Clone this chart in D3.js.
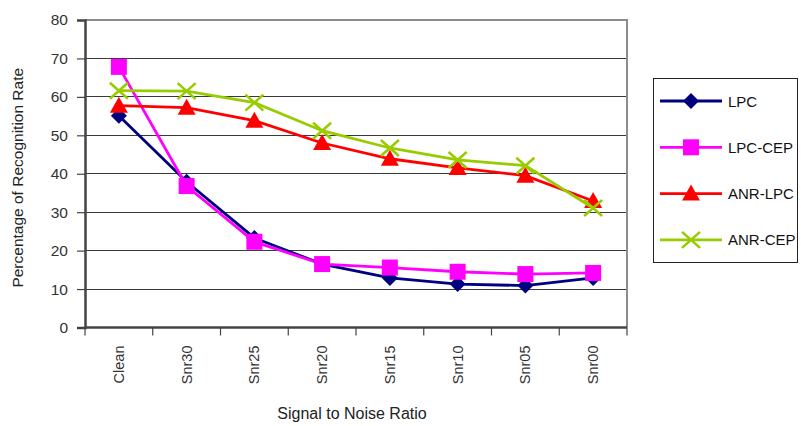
<!DOCTYPE html>
<html>
<head>
<meta charset="utf-8">
<script src="https://cdn.jsdelivr.net/npm/d3@7"></script>
<style>
  html, body { margin: 0; padding: 0; background: #fff; }
  svg { display: block; font-family: "Liberation Sans", Arial, sans-serif; }
</style>
</head>
<body>
<svg id="chart" width="801" height="426"></svg>
<script>
// Noise conditions along the x axis
const categories = ["Clean", "Snr30", "Snr25", "Snr20", "Snr15", "Snr10", "Snr05", "Snr00"];

// Recognition rate (%) per feature set
const lpc    = [55.1, 37.9, 23.3, 16.5, 12.9, 11.3, 10.9, 12.9];
const lpcCep = [67.8, 36.8, 22.3, 16.5, 15.6, 14.5, 13.9, 14.2];
const anrLpc = [57.7, 57.2, 53.8, 48.0, 43.9, 41.5, 39.5, 32.9];
const anrCep = [61.6, 61.5, 58.5, 51.2, 46.7, 43.6, 42.1, 31.1];

const seriesNames = ["LPC", "LPC-CEP", "ANR-LPC", "ANR-CEP"];
const yTicks = [0, 10, 20, 30, 40, 50, 60, 70, 80];

const series = [
  { name: seriesNames[0], values: lpc,    color: "#000080", marker: "diamond" },
  { name: seriesNames[1], values: lpcCep, color: "#FF00FF", marker: "square" },
  { name: seriesNames[2], values: anrLpc, color: "#FF0000", marker: "triangle" },
  { name: seriesNames[3], values: anrCep, color: "#99CC00", marker: "cross" }
];

const svg = d3.select("#chart");
const plot = { left: 85, right: 627, top: 20, bottom: 327.5 };

const x = d3.scaleBand().domain(categories).range([plot.left, plot.right]).padding(0);
const y = d3.scaleLinear().domain([0, 80]).range([plot.bottom, plot.top]);

// Horizontal gridlines
svg.append("g")
  .selectAll("line")
  .data(yTicks.filter(t => t > 0 && t < 80))
  .join("line")
  .attr("x1", plot.left).attr("x2", plot.right)
  .attr("y1", d => y(d)).attr("y2", d => y(d))
  .attr("stroke", "#3a3a3a").attr("stroke-width", 1).attr("shape-rendering", "crispEdges");

// Plot frame: top and right in grey
svg.append("path")
  .attr("d", `M${plot.left},${y(80)}H${plot.right}V${plot.bottom}`)
  .attr("fill", "none").attr("stroke", "#8c8c8c").attr("stroke-width", 2);

// Y axis
const yAxis = svg.append("g")
  .attr("transform", `translate(${plot.left},0)`)
  .call(d3.axisLeft(y).tickValues(yTicks).tickSize(8).tickPadding(9).tickFormat(d3.format("d")));
yAxis.select(".domain").attr("stroke", "#444").attr("stroke-width", 2.5);
yAxis.selectAll(".tick line").attr("stroke", "#444").attr("stroke-width", 1.2);
yAxis.selectAll("text").attr("font-size", 15.5).attr("fill", "#333").attr("font-family", "Liberation Sans, Arial, sans-serif");

// X axis: ticks between categories
const xAxisG = svg.append("g").attr("transform", `translate(0,${plot.bottom})`);
xAxisG.append("line")
  .attr("x1", plot.left).attr("x2", plot.right)
  .attr("stroke", "#444").attr("stroke-width", 2.5);
const bounds = categories.map(c => x(c)).concat([x(categories[categories.length - 1]) + x.bandwidth()]);
xAxisG.selectAll("line.tk")
  .data(bounds)
  .join("line").attr("class", "tk")
  .attr("x1", d => d).attr("x2", d => d)
  .attr("y1", 0).attr("y2", 8)
  .attr("stroke", "#444").attr("stroke-width", 1.2);
xAxisG.selectAll("text")
  .data(categories)
  .join("text")
  .attr("transform", d => `translate(${x(d) + x.bandwidth() / 2 + 5},18) rotate(-90)`)
  .attr("text-anchor", "end")
  .attr("font-size", 14.5).attr("fill", "#333")
  .text(d => d);

// Axis titles
svg.append("text")
  .attr("transform", `translate(23,${(plot.top + plot.bottom) / 2 + 4}) rotate(-90)`)
  .attr("text-anchor", "middle").attr("font-size", 15.5).attr("fill", "#222")
  .text("Percentage of Recognition Rate");
svg.append("text")
  .attr("x", 352).attr("y", 419)
  .attr("text-anchor", "middle").attr("font-size", 16).attr("fill", "#222")
  .text("Signal to Noise Ratio");

// Marker shapes
function drawMarker(g, type, color) {
  if (type === "diamond") {
    g.append("path").attr("d", "M0,-8L8,0L0,8L-8,0Z").attr("fill", color);
  } else if (type === "square") {
    g.append("rect").attr("x", -8).attr("y", -8).attr("width", 16).attr("height", 16).attr("fill", color);
  } else if (type === "triangle") {
    g.append("path").attr("d", "M0,-9L9,7L-9,7Z").attr("fill", color);
  } else if (type === "cross") {
    g.append("path").attr("d", "M-9,-8L9,8M-9,8L9,-8")
      .attr("stroke", color).attr("stroke-width", 2.6).attr("fill", "none");
  }
}

const line = d3.line()
  .x((d, i) => x(categories[i]) + x.bandwidth() / 2)
  .y(d => y(d));

series.forEach(s => {
  const g = svg.append("g");
  g.append("path")
    .attr("d", line(s.values))
    .attr("fill", "none").attr("stroke", s.color).attr("stroke-width", 2.8);
  s.values.forEach((v, i) => {
    const m = g.append("g")
      .attr("transform", `translate(${x(categories[i]) + x.bandwidth() / 2},${y(v)})`);
    drawMarker(m, s.marker, s.color);
  });
});

// Legend
const legend = svg.append("g");
legend.append("rect")
  .attr("x", 653.5).attr("y", 78.5).attr("width", 144).attr("height", 184)
  .attr("fill", "#fff").attr("stroke", "#222").attr("stroke-width", 1);
series.forEach((s, i) => {
  const ly = 101 + i * 46.3;
  const g = legend.append("g");
  g.append("line").attr("x1", 660).attr("x2", 722).attr("y1", ly).attr("y2", ly)
    .attr("stroke", s.color).attr("stroke-width", 2.8);
  const m = g.append("g").attr("transform", `translate(691,${ly})`);
  drawMarker(m, s.marker, s.color);
  g.append("text").attr("x", 728).attr("y", ly + 5.5)
    .attr("font-size", 15).attr("fill", "#111").text(s.name);
});
</script>
</body>
</html>
